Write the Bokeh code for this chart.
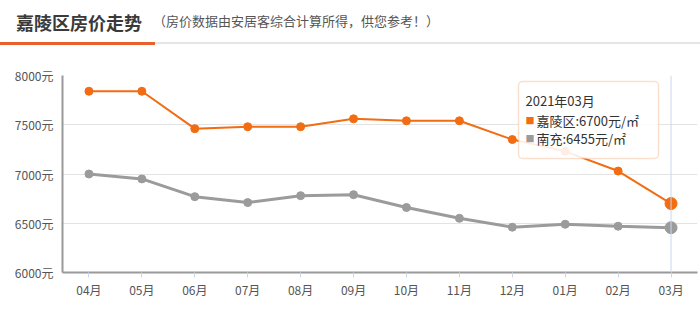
from bokeh.plotting import figure
from bokeh.layouts import column
from bokeh.models import (FactorRange, Range1d, Label, BoxAnnotation, Span, Div,
                          FixedTicker, CustomJSTickFormatter, ColumnDataSource)
from bokeh.embed import file_html
from bokeh.resources import INLINE

months = ["04月", "05月", "06月", "07月", "08月", "09月", "10月", "11月", "12月", "01月", "02月", "03月"]
district_name = "嘉陵区"
city_name = "南充"
district_prices = [7840, 7840, 7460, 7480, 7480, 7560, 7540, 7540, 7350, 7230, 7030, 6700]
city_prices = [7000, 6950, 6770, 6710, 6780, 6790, 6660, 6550, 6460, 6490, 6470, 6455]
y_ticks = [6000, 6500, 7000, 7500, 8000]
tooltip_title = "2021年03月"
title_text = "嘉陵区房价走势"
subtitle_text = "（房价数据由安居客综合计算所得，供您参考！）"

ORANGE = "#f26c12"
GRAY = "#9b9b9b"
FONT = "Noto Sans CJK SC"

header = Div(width=700, height=45, margin=0, text=f"""
<div style="position:relative;width:700px;height:45px;font-family:'{FONT}';background:white;">
  <span style="position:absolute;left:16px;top:12px;font-size:18px;line-height:20px;font-weight:bold;color:#3a3a3a;white-space:nowrap;">{title_text}</span>
  <span style="position:absolute;left:153px;top:13px;font-size:13px;line-height:16px;color:#555555;white-space:nowrap;">{subtitle_text}</span>
  <div style="position:absolute;left:155px;top:42px;width:545px;height:2px;background:#e6e6e6;"></div>
  <div style="position:absolute;left:0px;top:41.5px;width:155px;height:3px;background:#e8602c;"></div>
</div>
""")

p = figure(width=700, height=265, x_range=FactorRange(*months), y_range=Range1d(6000, 8000),
           output_backend="svg", toolbar_location=None, margin=0,
           min_border_left=62, min_border_right=3, min_border_top=30, min_border_bottom=38)
p.outline_line_color = None
p.background_fill_color = "white"
p.border_fill_color = "white"

# axes
p.yaxis.ticker = FixedTicker(ticks=y_ticks)
p.yaxis.formatter = CustomJSTickFormatter(code="return tick + '元'")
p.yaxis.major_tick_line_color = None
p.yaxis.minor_tick_line_color = None
p.yaxis.major_tick_out = 0
p.yaxis.major_label_standoff = 9
p.yaxis.axis_line_color = "#999999"
p.yaxis.axis_line_width = 2
p.yaxis.major_label_text_color = "#555555"
p.yaxis.major_label_text_font = FONT
p.yaxis.major_label_text_font_size = "12px"

p.xaxis.axis_line_color = "#999999"
p.xaxis.axis_line_width = 2
p.xaxis.major_tick_line_color = "#ccd6eb"
p.xaxis.major_tick_out = 5
p.xaxis.major_tick_in = 0
p.xaxis.major_label_standoff = 3
p.xaxis.major_label_text_color = "#555555"
p.xaxis.major_label_text_font = FONT
p.xaxis.major_label_text_font_size = "12px"

p.xgrid.grid_line_color = None
p.ygrid.grid_line_color = "#e3e3e3"
p.ygrid.grid_line_width = 1

# crosshair at last month
p.add_layout(Span(location=len(months) - 0.5, dimension="height", line_color="#ccd6eb", line_width=1))

src = ColumnDataSource(dict(m=months, d=district_prices, c=city_prices))
p.line("m", "c", source=src, line_color=GRAY, line_width=3)
p.scatter("m", "c", source=src, size=8, fill_color=GRAY, line_color=GRAY)
p.line("m", "d", source=src, line_color=ORANGE, line_width=2)
p.scatter("m", "d", source=src, size=8, fill_color=ORANGE, line_color=ORANGE)
# highlighted last points
p.scatter([months[-1]], [city_prices[-1]], size=12, fill_color=GRAY, line_color=GRAY)
p.scatter([months[-1]], [district_prices[-1]], size=12, fill_color=ORANGE, line_color=ORANGE)

# tooltip (screen units relative to frame: left=62, bottom=272)
p.add_layout(BoxAnnotation(left=456, right=596, top=191, bottom=114,
                           left_units="screen", right_units="screen", top_units="screen", bottom_units="screen",
                           fill_color="white", fill_alpha=0.88, line_color="#f0945a", line_width=1.5,
                           border_radius=4))
p.add_layout(Label(x=463, y=172, x_units="screen", y_units="screen", text=tooltip_title,
                   text_font=FONT, text_font_size="13px", text_color="#333333", text_baseline="middle"))
rows = [(district_name, district_prices[-1], ORANGE, 152), (city_name, city_prices[-1], GRAY, 134)]
for name, val, col, yy in rows:
    p.add_layout(Label(x=463, y=yy, x_units="screen", y_units="screen", text="■",
                       text_font=FONT, text_font_size="9px", text_color=col, text_baseline="middle"))
    p.add_layout(Label(x=474, y=yy, x_units="screen", y_units="screen", text=f"{name}:{val}元/㎡",
                       text_font=FONT, text_font_size="13px", text_color="#333333", text_baseline="middle"))

layout = column(header, p, spacing=0, margin=0)
open("out.html", "w").write(file_html(layout, INLINE))
